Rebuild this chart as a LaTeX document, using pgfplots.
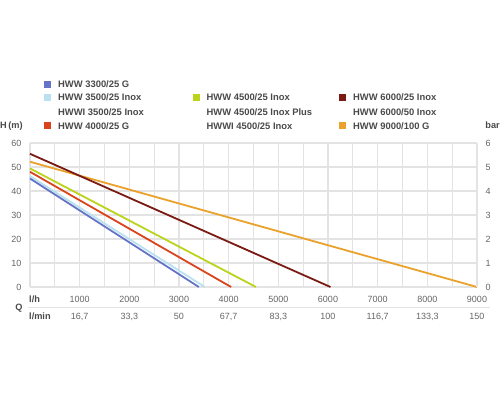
\documentclass[border=0pt]{standalone}
\usepackage{pgfplots}
\pgfplotsset{compat=1.18}
\usepackage{fontspec}
\setmainfont{Liberation Sans}
\definecolor{cblue}{HTML}{6674C8}
\definecolor{clblue}{HTML}{B9E1EF}
\definecolor{cred}{HTML}{D9441C}
\definecolor{cyel}{HTML}{BCD31C}
\definecolor{cdred}{HTML}{7B1A12}
\definecolor{corange}{HTML}{EBA22C}
\definecolor{cgrid}{HTML}{E3E3E3}
\definecolor{ctick}{HTML}{666666}
\definecolor{clab}{HTML}{4A4A4A}
\begin{document}
\begin{tikzpicture}[x=1pt,y=1pt]
\path[use as bounding box, fill=white] (0,0) rectangle (500,400);
% legend
\begin{scope}[every node/.style={anchor=west, inner sep=0pt, font=\fontsize{9.4}{10}\selectfont\bfseries, text=clab}]
\fill[cblue] (43.5,312.5) rectangle (50.5,319.5);
\node at (58,316) {HWW 3300/25 G};
\fill[clblue] (43.5,299.2) rectangle (50.5,306.2);
\node at (58,302.7) {HWW 3500/25 Inox};
\node at (58,288.3) {HWWI 3500/25 Inox};
\fill[cred] (43.5,270.8) rectangle (50.5,277.8);
\node at (58,274.3) {HWW 4000/25 G};
\fill[cyel] (192.8,299.2) rectangle (199.8,306.2);
\node at (206.5,302.7) {HWW 4500/25 Inox};
\node at (206.5,288.3) {HWW 4500/25 Inox Plus};
\node at (206.5,274.3) {HWWI 4500/25 Inox};
\fill[cdred] (339,299.2) rectangle (346,306.2);
\node at (353,302.7) {HWW 6000/25 Inox};
\node at (353,288.3) {HWW 6000/50 Inox};
\fill[corange] (339,270.8) rectangle (346,277.8);
\node at (353,274.3) {HWW 9000/100 G};
\end{scope}
\node[anchor=west, inner sep=0pt, font=\fontsize{9.2}{10}\selectfont\bfseries, text=clab] at (0,274.3) {H\,(m)};
\node[anchor=east, inner sep=0pt, font=\fontsize{9.2}{10}\selectfont\bfseries, text=clab] at (500,274.3) {bar};
% bottom labels
\draw[cgrid, line width=1.2pt] (28,92.3) -- (490,92.3);
\node[anchor=west, inner sep=0pt, font=\fontsize{9.2}{10}\selectfont\bfseries, text=clab] at (29,101) {l/h};
\node[anchor=west, inner sep=0pt, font=\fontsize{9.2}{10}\selectfont\bfseries, text=clab] at (29,83.3) {l/min};
\node[inner sep=0pt, font=\fontsize{9.2}{10}\selectfont\bfseries, text=clab] at (19,92) {Q};
\begin{axis}[
  at={(30pt,113pt)}, anchor=south west, scale only axis,
  width=447pt, height=144pt,
  xmin=0, xmax=9000, ymin=0, ymax=60,
  clip=false,
  axis line style={cgrid, line width=1.2pt},
  xtick={1000,2000,...,9000},
  minor xtick={500,1500,...,8500},
  ytick={0,10,...,60},
  grid=both,
  major grid style={cgrid, line width=1.2pt},
  minor grid style={cgrid, line width=1.2pt},
  major tick length=0pt, minor tick length=0pt,
  /pgf/number format/1000 sep={},
  /pgf/number format/assume math mode=true,
  tick label style={font=\fontsize{9}{10}\selectfont, text=ctick},
  xticklabel style={anchor=center, yshift=-12pt},
  yticklabel style={anchor=east, xshift=-5pt},
  axis y line*=left, axis x line*=bottom,
]
\addplot[corange, line width=1.8pt] coordinates {(0,52.2) (9000,0)};
\addplot[cdred, line width=1.8pt] coordinates {(0,55.5) (6050,0)};
\addplot[cyel, line width=1.8pt] coordinates {(0,49.4) (4550,0)};
\addplot[cred, line width=1.8pt] coordinates {(0,48) (4050,0)};
\addplot[clblue, line width=1.8pt] coordinates {(0,46.2) (3520,0)};
\addplot[cblue, line width=1.8pt] coordinates {(0,45.2) (3400,0)};
\begin{scope}[every node/.style={inner sep=0pt, font=\fontsize{9}{10}\selectfont, text=ctick}]
\node at (axis cs:1000,0) [yshift=-29.7pt] {16,7};
\node at (axis cs:2000,0) [yshift=-29.7pt] {33,3};
\node at (axis cs:3000,0) [yshift=-29.7pt] {50};
\node at (axis cs:4000,0) [yshift=-29.7pt] {67,7};
\node at (axis cs:5000,0) [yshift=-29.7pt] {83,3};
\node at (axis cs:6000,0) [yshift=-29.7pt] {100};
\node at (axis cs:7000,0) [yshift=-29.7pt] {116,7};
\node at (axis cs:8000,0) [yshift=-29.7pt] {133,3};
\node at (axis cs:9000,0) [yshift=-29.7pt] {150};
\end{scope}
\end{axis}
\begin{axis}[
  at={(30pt,113pt)}, anchor=south west, scale only axis,
  width=447pt, height=144pt,
  xmin=0, xmax=9000, ymin=0, ymax=6,
  hide x axis,
  axis y line*=right,
  axis line style={cgrid, line width=1.2pt},
  ytick={0,1,...,6},
  major tick length=0pt,
  /pgf/number format/assume math mode=true,
  tick label style={font=\fontsize{9}{10}\selectfont, text=ctick},
  yticklabel style={anchor=west, xshift=5pt},
]
\addplot[draw=none] coordinates {(0,0)};
\end{axis}
\end{tikzpicture}
\end{document}
